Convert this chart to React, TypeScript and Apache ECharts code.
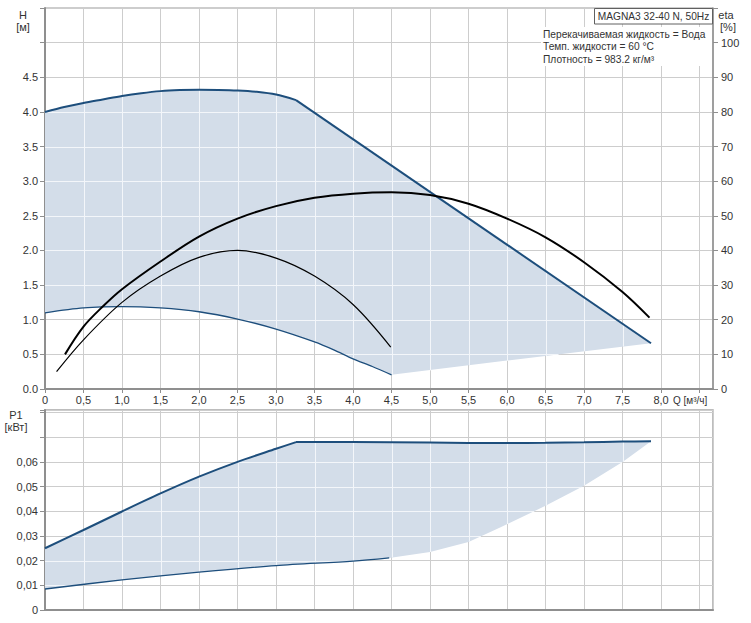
import React, { useEffect, useRef } from "react";
import * as echarts from "echarts";

// ---- data ----
// Head H [m] vs Q [m3/h]; the last point closes the straight right-hand limit
const hMaxQ = [0, 0.25, 0.5, 0.75, 1.0, 1.25, 1.5, 1.75, 2.0, 2.25, 2.5, 2.75, 3.0, 3.26, 7.87];
const hMaxV = [4.0, 4.07, 4.13, 4.18, 4.23, 4.27, 4.3, 4.315, 4.32, 4.318, 4.31, 4.29, 4.25, 4.17, 0.66];
const hMinQ = [0, 0.5, 1.0, 1.5, 2.0, 2.5, 3.0, 3.5, 3.75, 4.0, 4.25, 4.5];
const hMinV = [1.1, 1.17, 1.19, 1.17, 1.115, 1.01, 0.865, 0.68, 0.565, 0.435, 0.325, 0.205];
const hEdgeQ = [4.5, 6.0, 7.87];
const hEdgeV = [0.205, 0.41, 0.66];

// Efficiency eta [%]
const etaMaxQ = [0.26, 0.5, 0.75, 1.0, 1.5, 2.0, 2.5, 3.0, 3.5, 4.0, 4.5, 5.0, 5.5, 6.0, 6.5, 7.0, 7.5, 7.85];
const etaMaxV = [10, 18, 23.8, 28.8, 36.8, 44, 49.2, 52.8, 55.2, 56.4, 56.8, 56, 53.5, 49.2, 43.8, 36.6, 28, 20.6];
const etaMinQ = [0.15, 0.5, 1.0, 1.5, 2.0, 2.5, 3.0, 3.5, 4.0, 4.49];
const etaMinV = [5, 14.2, 25.0, 32.6, 38.0, 40, 37.8, 32.6, 24.4, 12.1];

// Power P1 [kW]
const pMaxQ = [0, 0.5, 1.0, 1.5, 2.0, 2.5, 3.0, 3.26, 4.0, 5.0, 6.0, 6.5, 7.0, 7.5, 7.87];
const pMaxV = [0.025, 0.0324, 0.0399, 0.0472, 0.054, 0.06, 0.0653, 0.068, 0.068, 0.0678, 0.0676, 0.0677, 0.0679, 0.0682, 0.0683];
const pMinQ = [0, 1, 2, 3, 4, 4.47];
const pMinV = [0.0085, 0.0122, 0.0153, 0.018, 0.0198, 0.0211];
const pEdgeQ = [4.47, 5.0, 5.5, 5.91, 6.5, 7.0, 7.51, 7.87];
const pEdgeV = [0.0211, 0.0235, 0.0275, 0.0334, 0.0422, 0.0503, 0.0601, 0.0683];

// axes
const Q_MAX = 8.675;
const Q_STEP = 0.5;
const H_MAX = 5.5;
const H_STEP = 0.5;
const ETA_MAX = 110;
const ETA_STEP = 10;
const P_MAX = 0.081;
const P_STEP = 0.01;

const infoLines = [
  "Перекачиваемая жидкость = Вода",
  "Темп. жидкости = 60 °C",
  "Плотность = 983.2 кг/м³",
];

const FILL = "#d3dde9";
const BLUE = "#1d4e7c";
const GRID = "#cdcdcd";
const AXIS = "#8f8f8f";
const FONT = "Liberation Sans, Arial, sans-serif";

const pairs = (q: number[], v: number[]) => q.map((x, i) => [x, v[i]]);

function insidePoly(x: number, y: number, poly: number[][]) {
  let c = false;
  for (let i = 0, j = poly.length - 1; i < poly.length; j = i++) {
    const xi = poly[i][0], yi = poly[i][1], xj = poly[j][0], yj = poly[j][1];
    if ((yi > y) !== (yj > y) && x < ((xj - xi) * (y - yi)) / (yj - yi) + xi) c = !c;
  }
  return c;
}

function ticks(step: number, max: number) {
  const out: number[] = [];
  for (let k = 1; k * step < max - 1e-9; k++) out.push(k * step);
  return out;
}

function makeShade(upper: number[][], lower: number[][], xs: number[], ys: number[]) {
  return (params: any, api: any) => {
    const poly: number[][] = [];
    upper.forEach((p) => poly.push(api.coord(p)));
    for (let i = lower.length - 1; i >= 0; i--) poly.push(api.coord(lower[i]));
    const cs = params.coordSys;
    const children: any[] = [
      { type: "polygon", shape: { points: poly }, style: { fill: FILL }, silent: true },
    ];
    const lineStyle = { stroke: "#f3f6fa", lineWidth: 1 };
    const runs = (a: number[], b: number[]) => {
      const N = 800;
      let start: number[] | null = null;
      for (let s = 0; s <= N; s++) {
        const t = s / N;
        const x = a[0] + (b[0] - a[0]) * t;
        const y = a[1] + (b[1] - a[1]) * t;
        const ins = insidePoly(x, y, poly);
        if (ins && !start) start = [x, y];
        if ((!ins || s === N) && start) {
          children.push({
            type: "line",
            shape: { x1: start[0], y1: start[1], x2: x, y2: y },
            style: lineStyle,
            silent: true,
          });
          start = null;
        }
      }
    };
    xs.forEach((c) => {
      const px = Math.round(api.coord([c, 0])[0]) + 0.5;
      runs([px, cs.y], [px, cs.y + cs.height]);
    });
    ys.forEach((c) => {
      const py = Math.round(api.coord([0, c])[1]) + 0.5;
      runs([cs.x, py], [cs.x + cs.width, py]);
    });
    return { type: "group", children };
  };
}

export default function App() {
  const ref = useRef<HTMLDivElement>(null);
  useEffect(() => {
    if (!ref.current) return;
    const chart = echarts.init(ref.current, undefined, { renderer: "svg" });
    const labelStyle = { color: "#333", fontSize: 11, fontFamily: FONT };
    const xCommon = {
      type: "value",
      min: 0,
      max: Q_MAX,
      interval: Q_STEP,
      splitLine: { show: true, lineStyle: { color: GRID, width: 1 } },
      axisLine: { show: true, onZero: false, lineStyle: { color: AXIS, width: 2 } },
    };
    const hTop = pairs(hMaxQ, hMaxV);
    const hLow = pairs(hMinQ, hMinV).concat(pairs(hEdgeQ, hEdgeV).slice(1));
    const pTop = pairs(pMaxQ, pMaxV);
    const pLow = pairs(pMinQ, pMinV).concat(pairs(pEdgeQ, pEdgeV).slice(1));
    const hKnee = hMaxQ.length - 2;
    const pKnee = pMaxQ.indexOf(3.26);

    const txt = (text: string, x: number, y: number, align = "left", size = 11) => ({
      type: "text",
      x,
      y,
      z: 100,
      silent: true,
      style: {
        text,
        font: `${size}px ${FONT}`,
        fill: "#333",
        textAlign: align,
        textVerticalAlign: "middle",
        align,
        verticalAlign: "middle",
      },
    });

    const line = (xi: number, yi: number, data: number[][], color: string, width: number, smooth: number | boolean, z = 3) => ({
      type: "line",
      xAxisIndex: xi,
      yAxisIndex: yi,
      z,
      symbol: "none",
      silent: true,
      smooth,
      data,
      lineStyle: { color, width },
    });

    chart.setOption({
      animation: false,
      backgroundColor: "#ffffff",
      grid: [
        { left: 45, top: 8, width: 668, height: 381, show: true, backgroundColor: "#fff", borderColor: "#9a9a9a", borderWidth: 1 },
        { left: 45, top: 410, width: 668, height: 200, show: true, backgroundColor: "#fff", borderColor: "#a8a8a8", borderWidth: 1.5 },
      ],
      xAxis: [
        {
          ...xCommon,
          gridIndex: 0,
          axisTick: { show: true, length: 4, lineStyle: { color: AXIS } },
          axisLabel: {
            ...labelStyle,
            margin: 5,
            showMaxLabel: false,
            formatter: (v: number) => (v > 8.01 ? "" : v === 0 ? "0" : v.toFixed(1).replace(".", ",")),
          },
        },
        {
          ...xCommon,
          gridIndex: 1,
          axisTick: { show: false },
          axisLabel: { show: false },
        },
      ],
      yAxis: [
        {
          type: "value",
          gridIndex: 0,
          min: 0,
          max: H_MAX,
          interval: H_STEP,
          splitLine: { show: true, lineStyle: { color: GRID, width: 1 } },
          axisLine: { show: true, onZero: false, lineStyle: { color: AXIS, width: 2 } },
          axisTick: { show: true, length: 5, lineStyle: { color: AXIS } },
          axisLabel: { ...labelStyle, margin: 7, formatter: (v: number) => (v > 4.51 ? "" : v.toFixed(1)) },
        },
        {
          type: "value",
          gridIndex: 0,
          position: "right",
          min: 0,
          max: ETA_MAX,
          interval: ETA_STEP,
          splitLine: { show: false },
          axisLine: { show: true, onZero: false, lineStyle: { color: AXIS, width: 1.5 } },
          axisTick: { show: true, length: 5, lineStyle: { color: AXIS } },
          axisLabel: { ...labelStyle, margin: 8, formatter: (v: number) => (v > 100.5 ? "" : String(Math.round(v))) },
        },
        {
          type: "value",
          gridIndex: 1,
          min: 0,
          max: P_MAX,
          interval: P_STEP,
          splitLine: { show: true, lineStyle: { color: GRID, width: 1 } },
          axisLine: { show: true, onZero: false, lineStyle: { color: AXIS, width: 2 } },
          axisTick: { show: true, length: 5, lineStyle: { color: AXIS } },
          axisLabel: {
            ...labelStyle,
            margin: 7,
            formatter: (v: number) => (v > 0.0605 ? "" : v < 1e-9 ? "0" : v.toFixed(2).replace(".", ",")),
          },
        },
      ],
      series: [
        {
          type: "custom",
          xAxisIndex: 0,
          yAxisIndex: 0,
          z: 1,
          silent: true,
          clip: true,
          data: [[0, 0]],
          renderItem: makeShade(hTop, hLow, ticks(Q_STEP, Q_MAX), ticks(H_STEP, H_MAX)),
        },
        {
          type: "custom",
          xAxisIndex: 1,
          yAxisIndex: 2,
          z: 1,
          silent: true,
          clip: true,
          data: [[0, 0]],
          renderItem: makeShade(pTop, pLow, ticks(Q_STEP, Q_MAX), ticks(P_STEP, P_MAX)),
        },
        line(0, 0, hTop.slice(0, hKnee + 1), BLUE, 2, 0.3),
        line(0, 0, hTop.slice(hKnee), BLUE, 2, false),
        line(0, 0, pairs(hMinQ, hMinV), BLUE, 1.3, 0.3),
        line(0, 1, pairs(etaMaxQ, etaMaxV), "#000", 2, 0.35, 4),
        line(0, 1, pairs(etaMinQ, etaMinV), "#000", 1.2, 0.35, 4),
        line(1, 2, pTop.slice(0, pKnee + 1), BLUE, 2, 0.3),
        line(1, 2, pTop.slice(pKnee), BLUE, 2, 0.3),
        line(1, 2, pairs(pMinQ, pMinV), BLUE, 1.3, 0.3),
      ],
      graphic: [
        txt("H", 23, 15, "center"),
        txt("[м]", 23, 27, "center"),
        txt("eta", 726, 15, "center"),
        txt("[%]", 728, 27, "center"),
        {
          type: "rect",
          silent: true,
          z: 99,
          shape: { x: 541, y: 27, width: 171, height: 39 },
          style: { fill: "#fff" },
        },
        {
          type: "rect",
          silent: true,
          z: 99,
          shape: { x: 594.5, y: 8.5, width: 118, height: 15.5 },
          style: { fill: "#fff", stroke: "#606060", lineWidth: 1 },
        },
        txt("MAGNA3 32-40 N, 50Hz", 653.5, 16.5, "center", 10.2),
        txt(infoLines[0], 543, 34, "left", 10.2),
        txt(infoLines[1], 543, 46.5, "left", 10.2),
        txt(infoLines[2], 543, 59, "left", 10.2),
        txt("Q [м³/ч]", 673, 400, "left", 10),
        txt("P1", 16, 415, "center"),
        txt("[кВт]", 16, 427, "center"),
      ],
    });
    return () => chart.dispose();
  }, []);
  return <div ref={ref} style={{ position: "absolute", left: 0, top: 0, width: 751, height: 623 }} />;
}
